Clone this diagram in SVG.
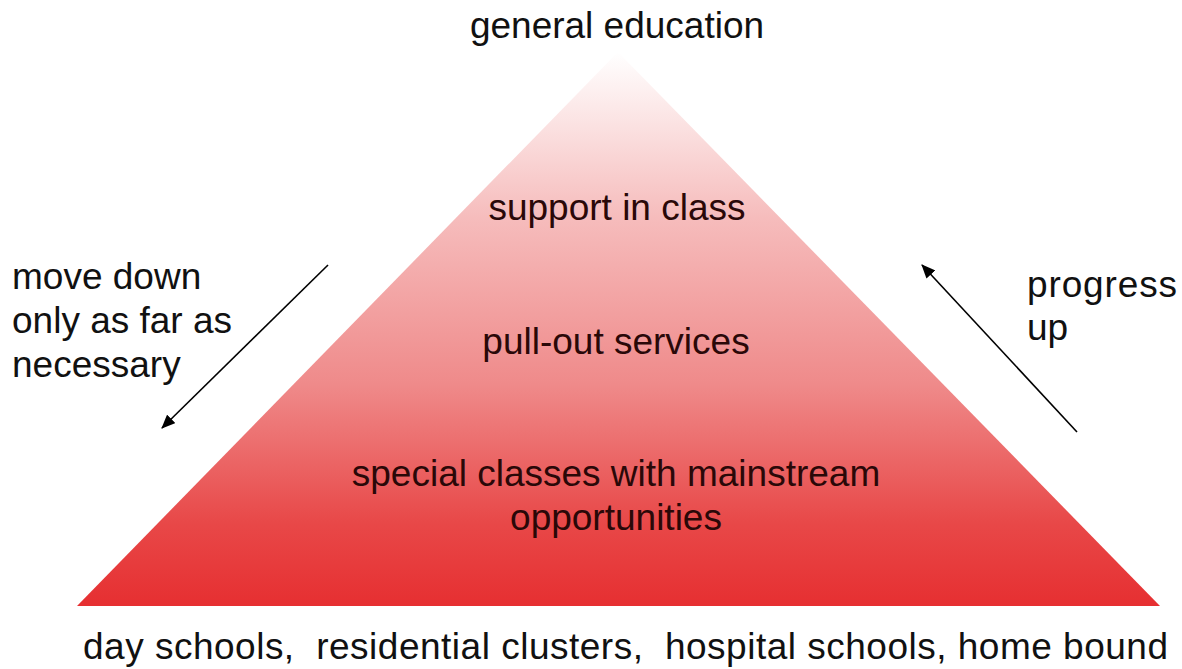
<svg xmlns="http://www.w3.org/2000/svg" width="1182" height="669" viewBox="0 0 1182 669">
  <style>
    .t { font-family: "Liberation Sans", Arial, sans-serif; font-size: 37px; fill: #111; }
    .in { fill: #2a0808; }
    .c { text-anchor: middle; }
    .conn { stroke: #000; stroke-width: 1.6; fill: none; marker-end: url(#arr); }
  </style>
  <defs>
    <linearGradient id="g" x1="0" y1="52" x2="0" y2="606" gradientUnits="userSpaceOnUse">
      <stop offset="0" stop-color="#ffffff"/>
      <stop offset="0.3" stop-color="#f6bcbc"/>
      <stop offset="0.6" stop-color="#ef8a8a"/>
      <stop offset="0.85" stop-color="#e84848"/>
      <stop offset="1" stop-color="#e62f31"/>
    </linearGradient>
    <marker id="arr" markerWidth="14" markerHeight="12" refX="13" refY="6" orient="auto" markerUnits="userSpaceOnUse">
      <path d="M0,0 L14,6 L0,12 z" fill="#000"/>
    </marker>
  </defs>
  <rect width="1182" height="669" fill="#fff"/>
  <g id="pyramid">
    <polygon points="618,52 1160,606 77,606" fill="url(#g)"/>
  </g>
  <g id="top-label">
    <text class="t c" x="617" y="38">general education</text>
  </g>
  <g id="level-support">
    <text class="t in c" x="617" y="220">support in class</text>
  </g>
  <g id="level-pullout">
    <text class="t in c" x="616" y="354">pull-out services</text>
  </g>
  <g id="level-special">
    <text class="t in c" x="616" y="486">special classes with mainstream</text>
    <text class="t in c" x="616" y="530">opportunities</text>
  </g>
  <g id="bottom-label">
    <text class="t" x="83" y="659" textLength="1085" lengthAdjust="spacing" xml:space="preserve">day schools,  residential clusters,  hospital schools, home bound</text>
  </g>
  <g id="left-label">
    <text class="t" x="12" y="289">move down</text>
    <text class="t" x="12" y="333">only as far as</text>
    <text class="t" x="12" y="377">necessary</text>
  </g>
  <g id="right-label">
    <text class="t" x="1027" y="297" textLength="150" lengthAdjust="spacing">progress</text>
    <text class="t" x="1027" y="340">up</text>
  </g>
  <g id="connectors">
    <line class="conn" x1="328" y1="265" x2="162" y2="428"/>
    <line class="conn" x1="1077" y1="432" x2="922" y2="265"/>
  </g>
</svg>
